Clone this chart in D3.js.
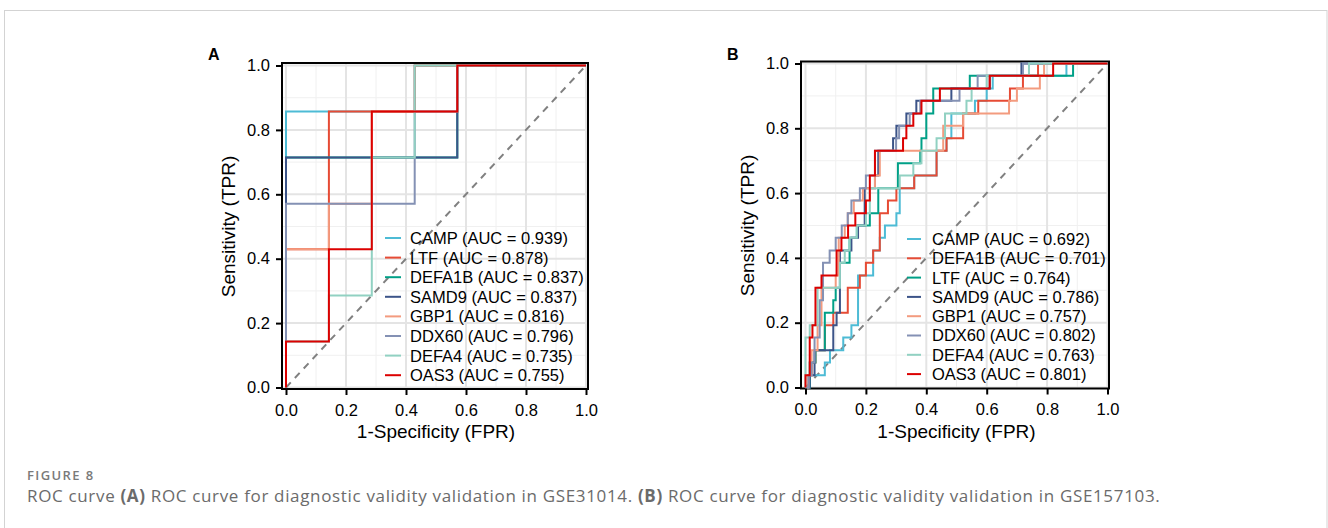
<!DOCTYPE html>
<html>
<head>
<meta charset="utf-8">
<script src="https://cdn.jsdelivr.net/npm/d3@7/dist/d3.min.js"></script>
<style>
  body { margin: 0; background: #fff; }
  svg text { font-family: "Liberation Sans", Arial, sans-serif; }
</style>
</head>
<body>
<svg id="fig" width="1328" height="528"></svg>
<script>
// colours follow the legend order (npg palette)
const colours = ["#4DBBD5", "#E64B35", "#00A087", "#3C5488", "#F39B7F", "#8491B4", "#91D1C2", "#DC0000"];
const axisTicks = [0, 0.2, 0.4, 0.6, 0.8, 1.0];
const minorTicks = [0.1, 0.3, 0.5, 0.7, 0.9];

// Panel A - GSE31014 (7 vs 7 samples), points are [FPR, TPR] after each step up
const genesA = ["CAMP", "LTF", "DEFA1B", "SAMD9", "GBP1", "DDX60", "DEFA4", "OAS3"];
const aucA = [0.939, 0.878, 0.837, 0.837, 0.816, 0.796, 0.735, 0.755];
const campA = [[0, 0], [0, 0.857], [0.429, 1], [1, 1]];
const ltfA = [[0, 0], [0, 0.429], [0.143, 0.857], [0.429, 1], [1, 1]];
const defa1bA = [[0, 0], [0, 0.714], [0.571, 1], [1, 1]];
const samd9A = [[0, 0], [0, 0.714], [0.571, 1], [1, 1]];
const gbp1A = [[0, 0], [0, 0.429], [0.143, 0.571], [0.286, 0.857], [0.571, 1], [1, 1]];
const ddx60A = [[0, 0], [0, 0.571], [0.429, 0.857], [0.571, 1], [1, 1]];
const defa4A = [[0, 0], [0, 0.143], [0.143, 0.286], [0.286, 0.714], [0.429, 1], [1, 1]];
const oas3A = [[0, 0], [0, 0.143], [0.143, 0.429], [0.286, 0.857], [0.571, 1], [1, 1]];

// Panel B - GSE157103
const genesB = ["CAMP", "DEFA1B", "LTF", "SAMD9", "GBP1", "DDX60", "DEFA4", "OAS3"];
const aucB = [0.692, 0.701, 0.764, 0.786, 0.757, 0.802, 0.763, 0.801];
const campB = [[0, 0], [0.014, 0.038], [0.064, 0.077], [0.081, 0.115], [0.125, 0.154], [0.152, 0.192], [0.174, 0.346], [0.224, 0.423], [0.246, 0.462], [0.263, 0.5], [0.301, 0.538], [0.312, 0.615], [0.36, 0.654], [0.434, 0.731], [0.467, 0.769], [0.483, 0.846], [0.561, 0.885], [0.6, 0.923], [0.62, 0.962], [0.864, 1], [1, 1]];
const defa1bB = [[0, 0], [0.01, 0.038], [0.02, 0.077], [0.033, 0.115], [0.064, 0.192], [0.092, 0.231], [0.14, 0.308], [0.18, 0.346], [0.2, 0.385], [0.224, 0.423], [0.246, 0.538], [0.273, 0.577], [0.301, 0.615], [0.36, 0.654], [0.434, 0.731], [0.467, 0.769], [0.522, 0.846], [0.572, 0.885], [0.677, 0.923], [0.72, 0.962], [0.77, 1], [1, 1]];
const ltfB = [[0, 0], [0.014, 0.077], [0.033, 0.115], [0.064, 0.231], [0.092, 0.269], [0.1, 0.308], [0.114, 0.385], [0.146, 0.462], [0.17, 0.5], [0.213, 0.538], [0.241, 0.615], [0.306, 0.692], [0.38, 0.731], [0.384, 0.769], [0.4, 0.846], [0.423, 0.923], [0.544, 0.962], [0.886, 1], [1, 1]];
const samd9B = [[0, 0], [0.014, 0.038], [0.03, 0.115], [0.092, 0.192], [0.103, 0.231], [0.114, 0.423], [0.152, 0.462], [0.174, 0.5], [0.196, 0.615], [0.23, 0.654], [0.241, 0.731], [0.29, 0.769], [0.301, 0.808], [0.334, 0.846], [0.367, 0.885], [0.483, 0.923], [0.61, 0.962], [0.715, 1], [1, 1]];
const gbp1B = [[0, 0], [0.01, 0.038], [0.02, 0.115], [0.04, 0.192], [0.053, 0.308], [0.1, 0.346], [0.11, 0.462], [0.13, 0.5], [0.14, 0.538], [0.16, 0.577], [0.19, 0.615], [0.23, 0.654], [0.246, 0.731], [0.456, 0.808], [0.522, 0.846], [0.674, 0.885], [0.7, 0.923], [0.776, 0.962], [0.79, 1], [1, 1]];
const ddx60B = [[0, 0], [0.01, 0.038], [0.02, 0.077], [0.03, 0.154], [0.047, 0.269], [0.058, 0.385], [0.08, 0.423], [0.1, 0.462], [0.12, 0.5], [0.14, 0.538], [0.152, 0.577], [0.18, 0.615], [0.2, 0.654], [0.23, 0.731], [0.3, 0.769], [0.31, 0.808], [0.345, 0.846], [0.38, 0.885], [0.51, 0.923], [0.57, 0.962], [0.72, 1], [1, 1]];
const defa4B = [[0, 0], [0, 0.154], [0.014, 0.192], [0.04, 0.308], [0.114, 0.385], [0.13, 0.423], [0.146, 0.462], [0.17, 0.5], [0.2, 0.538], [0.213, 0.615], [0.312, 0.654], [0.357, 0.692], [0.384, 0.731], [0.434, 0.769], [0.462, 0.846], [0.533, 0.885], [0.55, 0.923], [0.6, 0.962], [0.74, 1], [1, 1]];
const oas3B = [[0, 0], [0, 0.038], [0.014, 0.154], [0.023, 0.192], [0.033, 0.308], [0.053, 0.346], [0.103, 0.423], [0.119, 0.462], [0.141, 0.5], [0.165, 0.538], [0.2, 0.577], [0.213, 0.654], [0.23, 0.731], [0.323, 0.769], [0.334, 0.808], [0.357, 0.846], [0.384, 0.885], [0.445, 0.923], [0.61, 0.962], [0.82, 1], [1, 1]];

const svg = d3.select("#fig");

// card outline
svg.append("rect")
  .attr("x", 4.5).attr("y", 10.5)
  .attr("width", 1322.5).attr("height", 600)
  .attr("fill", "none")
  .attr("stroke", "#d3d3d3")
  .attr("stroke-width", 1);

function rocPanel(opts) {
  const g = svg.append("g");
  const x = d3.scaleLinear().domain([0, 1]).range(opts.xRange);
  const y = d3.scaleLinear().domain([0, 1]).range(opts.yRange);
  const f = opts.frame;

  // grid
  g.append("g").selectAll("line").data(minorTicks).join("line")
    .attr("x1", d => x(d)).attr("x2", d => x(d))
    .attr("y1", f.y).attr("y2", f.y + f.h)
    .attr("stroke", "#f0f0f0").attr("stroke-width", 1);
  g.append("g").selectAll("line").data(minorTicks).join("line")
    .attr("y1", d => y(d)).attr("y2", d => y(d))
    .attr("x1", f.x).attr("x2", f.x + f.w)
    .attr("stroke", "#f0f0f0").attr("stroke-width", 1);
  g.append("g").selectAll("line").data(axisTicks).join("line")
    .attr("x1", d => x(d)).attr("x2", d => x(d))
    .attr("y1", f.y).attr("y2", f.y + f.h)
    .attr("stroke", "#e4e4e4").attr("stroke-width", 2);
  g.append("g").selectAll("line").data(axisTicks).join("line")
    .attr("y1", d => y(d)).attr("y2", d => y(d))
    .attr("x1", f.x).attr("x2", f.x + f.w)
    .attr("stroke", "#e4e4e4").attr("stroke-width", 2);

  // frame
  g.append("rect")
    .attr("x", f.x).attr("y", f.y)
    .attr("width", f.w).attr("height", f.h)
    .attr("fill", "none")
    .attr("stroke", "#000")
    .attr("stroke-width", 2);

  // chance line
  g.append("line")
    .attr("x1", x(0)).attr("y1", y(0))
    .attr("x2", x(1)).attr("y2", y(1))
    .attr("stroke", "#808080")
    .attr("stroke-width", 2)
    .attr("stroke-dasharray", "7,6");

  const stepLine = d3.line()
    .x(d => x(d[0]))
    .y(d => y(d[1]))
    .curve(d3.curveStepAfter);

  opts.curves.forEach((c, i) => {
    g.append("path")
      .attr("d", stepLine(c))
      .attr("fill", "none")
      .attr("stroke", colours[i])
      .attr("stroke-width", 2);
  });

  // legend (no box)
  const leg = g.append("g");
  opts.genes.forEach((name, i) => {
    const ly = opts.legend.y + i * opts.legend.step;
    leg.append("line")
      .attr("x1", opts.legend.x).attr("x2", opts.legend.x + opts.legend.key)
      .attr("y1", ly).attr("y2", ly)
      .attr("stroke", colours[i]).attr("stroke-width", 2);
    leg.append("text")
      .attr("x", opts.legend.x + opts.legend.key + opts.legend.gap)
      .attr("y", ly)
      .attr("dy", "0.36em")
      .style("font-size", "16.5px")
      .attr("fill", "#000")
      .text(`${name} (AUC = ${d3.format(".3f")(opts.auc[i])})`);
  });

  const xAxis = d3.axisBottom(x).tickValues(axisTicks)
    .tickFormat(d3.format(".1f")).tickSize(6).tickPadding(9);
  const yAxis = d3.axisLeft(y).tickValues(axisTicks)
    .tickFormat(d3.format(".1f")).tickSize(6).tickPadding(6);

  const gx = g.append("g")
    .attr("transform", `translate(0, ${f.y + f.h})`)
    .call(xAxis);
  const gy = g.append("g")
    .attr("transform", `translate(${f.x}, 0)`)
    .call(yAxis);
  [gx, gy].forEach(a => {
    a.select(".domain").remove();
    a.selectAll(".tick line").attr("stroke", "#000").attr("stroke-width", 2);
    a.selectAll(".tick text")
      .attr("fill", "#000")
      .style("font-size", "16.5px")
      .style("font-family", "'Liberation Sans', Arial, sans-serif");
  });

  g.append("text")
    .attr("x", (opts.xRange[0] + opts.xRange[1]) / 2)
    .attr("y", 438)
    .attr("text-anchor", "middle")
    .style("font-size", "19px")
    .text("1-Specificity (FPR)");

  g.append("text")
    .attr("transform", `translate(${opts.yTitleX}, ${(opts.yRange[0] + opts.yRange[1]) / 2}) rotate(-90)`)
    .attr("text-anchor", "middle")
    .attr("dy", "0.36em")
    .style("font-size", "19px")
    .text("Sensitivity (TPR)");

  g.append("text")
    .attr("x", opts.label.x).attr("y", opts.label.y)
    .style("font-size", "16px")
    .style("font-weight", "bold")
    .text(opts.label.text);
}

rocPanel({
  frame: { x: 282, y: 63, w: 306, h: 326 },
  xRange: [286, 586],
  yRange: [387.5, 65.5],
  curves: [campA, ltfA, defa1bA, samd9A, gbp1A, ddx60A, defa4A, oas3A],
  genes: genesA,
  auc: aucA,
  legend: { x: 385, y: 238, step: 19.6, key: 16, gap: 9 },
  yTitleX: 228,
  label: { x: 208, y: 60, text: "A" }
});

rocPanel({
  frame: { x: 801, y: 61.5, w: 308, h: 327 },
  xRange: [805.5, 1107.5],
  yRange: [387.5, 63.5],
  curves: [campB, defa1bB, ltfB, samd9B, gbp1B, ddx60B, defa4B, oas3B],
  genes: genesB,
  auc: aucB,
  legend: { x: 907, y: 239, step: 19.3, key: 14, gap: 11 },
  yTitleX: 747,
  label: { x: 727, y: 60, text: "B" }
});

// caption
svg.append("text")
  .attr("x", 27).attr("y", 480)
  .style("font-family", "'Open Sans', sans-serif")
  .style("font-size", "13px")
  .style("font-weight", "600")
  .style("letter-spacing", "1.4px")
  .attr("fill", "#7a7a7a")
  .text("FIGURE 8");

const cap = svg.append("text")
  .attr("x", 27).attr("y", 502)
  .style("font-family", "'Open Sans', sans-serif")
  .style("font-size", "17px")
  .style("letter-spacing", "0.66px")
  .attr("fill", "#6b6b6b");
cap.append("tspan").text("ROC curve ");
cap.append("tspan").style("font-weight", "bold").text("(A)");
cap.append("tspan").text(" ROC curve for diagnostic validity validation in GSE31014. ");
cap.append("tspan").style("font-weight", "bold").text("(B)");
cap.append("tspan").text(" ROC curve for diagnostic validity validation in GSE157103.");
</script>
</body>
</html>
